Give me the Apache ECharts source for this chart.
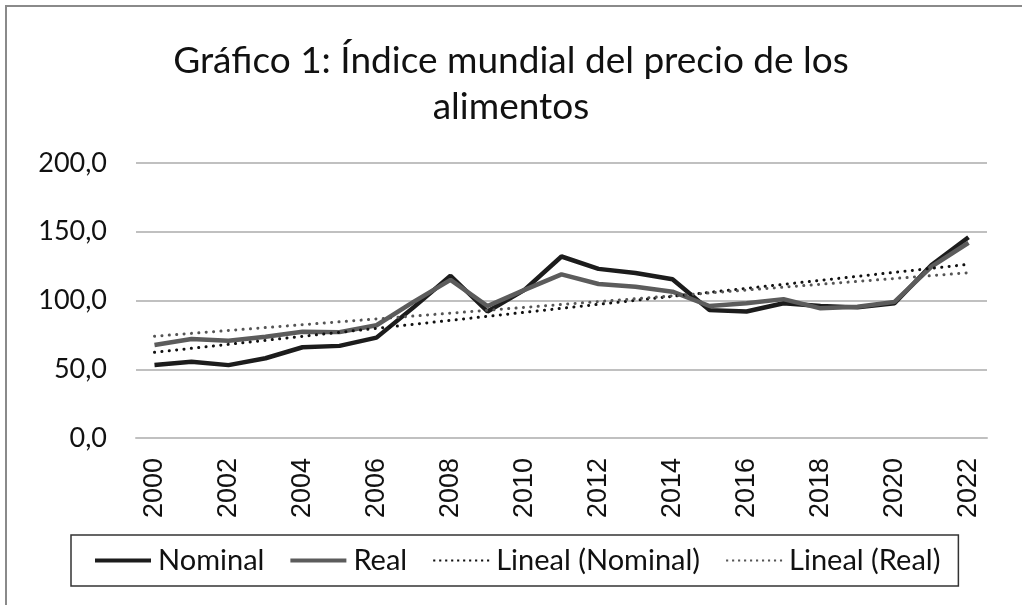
<!DOCTYPE html>
<html>
<head>
<meta charset="utf-8">
<script src="https://cdn.jsdelivr.net/npm/echarts@6/dist/echarts.min.js"></script>
<style>html,body{margin:0;padding:0;background:#fff}#c{width:1022px;height:605px}</style>
</head>
<body>
<div id="c"></div>
<script>
const years = ['2000','2001','2002','2003','2004','2005','2006','2007','2008','2009','2010','2011','2012','2013','2014','2015','2016','2017','2018','2019','2020','2021','2022'];
const nominal = [53.1, 55.5, 53.0, 58.0, 66.0, 67.0, 73.0, 95.0, 118.0, 92.0, 107.7, 132.0, 123.0, 120.0, 115.4, 93.0, 92.0, 98.0, 96.0, 95.0, 98.0, 125.8, 146.0];
const real = [67.6, 72.0, 70.8, 73.7, 77.3, 77.0, 82.0, 99.0, 115.0, 96.0, 107.7, 119.0, 112.0, 110.0, 106.4, 96.0, 98.0, 101.0, 94.3, 95.5, 99.0, 124.6, 142.0];
const trendNominalEnds = [62.3, 126.3];
const trendRealEnds = [74.0, 120.2];
const yTicks = ['0,0','50,0','100,0','150,0','200,0'];

function endsToData(ends){
  return years.map((y,i)=> i===0 ? ends[0] : (i===years.length-1 ? ends[1] : null));
}

// legend icons
const solidIcon = 'path://M0,0H56V4H0Z';
let dots = '';
for (let x = 0; x < 56; x += 6.2) { dots += 'M' + x.toFixed(1) + ',1H' + (x+2.2).toFixed(1) + 'V3H' + x.toFixed(1) + 'Z'; }
const dotIcon = 'path://M0,0H0.01V0.01H0ZM56,4H55.99V3.99H56Z' + dots;

const chart = echarts.init(document.getElementById('c'));
const font = 'Lato';
chart.setOption({
  animation:false,
  backgroundColor:'#fff',
  graphic:[{type:'rect', shape:{x:6,y:6,width:1200,height:800}, style:{fill:'none', stroke:'#8a8a8a', lineWidth:2}}],
  title:{
    text:'Gráfico 1: Índice mundial del precio de los\nalimentos',
    left:'center', top:33,
    textStyle:{fontFamily:font, fontSize:37, fontWeight:'normal', color:'#111', lineHeight:46}
  },
  grid:{left:136, right:35, top:163, bottom:167, containLabel:false},
  xAxis:{
    type:'category', data:years, boundaryGap:true,
    axisLine:{show:true, lineStyle:{color:'#c0c0c0', width:2}},
    axisTick:{show:false},
    axisLabel:{interval:1, rotate:90, margin:20, fontFamily:'Liberation Sans', fontSize:27, color:'#111'}
  },
  yAxis:{
    type:'value', min:0, max:200, interval:50,
    axisLine:{show:false}, axisTick:{show:false},
    splitLine:{lineStyle:{color:'#c0c0c0', width:2}},
    axisLabel:{margin:29, fontFamily:font, fontSize:27, color:'#111',
      formatter:(v)=> yTicks[Math.round(v/50)]}
  },
  legend:{
    left:71, top:535, width:893,
    padding:[11,18,11,24], itemGap:26, itemWidth:56, itemHeight:4,
    borderColor:'#333', borderWidth:1.5,
    textStyle:{fontFamily:font, fontSize:29, color:'#111', padding:[0,0,0,2]},
    data:[
      {name:'Nominal', icon:solidIcon},
      {name:'Real', icon:solidIcon},
      {name:'Lineal (Nominal)', icon:dotIcon},
      {name:'Lineal (Real)', icon:dotIcon}
    ]
  },
  series:[
    {name:'Nominal', type:'line', data:nominal, symbol:'none', z:3,
     lineStyle:{color:'#1c1c1c', width:4.5}, itemStyle:{color:'#1c1c1c'}},
    {name:'Real', type:'line', data:real, symbol:'none', z:3,
     lineStyle:{color:'#5c5c5c', width:4.5}, itemStyle:{color:'#5c5c5c'}},
    {name:'Lineal (Nominal)', type:'line', data:endsToData(trendNominalEnds), connectNulls:true, symbol:'none', z:4,
     lineStyle:{color:'#111', width:3, type:[0.1,7.3], cap:'round'}, itemStyle:{color:'#111'}},
    {name:'Lineal (Real)', type:'line', data:endsToData(trendRealEnds), connectNulls:true, symbol:'none', z:4,
     lineStyle:{color:'#555', width:3, type:[0.1,7.3], cap:'round'}, itemStyle:{color:'#555'}}
  ]
});
</script>
</body>
</html>
